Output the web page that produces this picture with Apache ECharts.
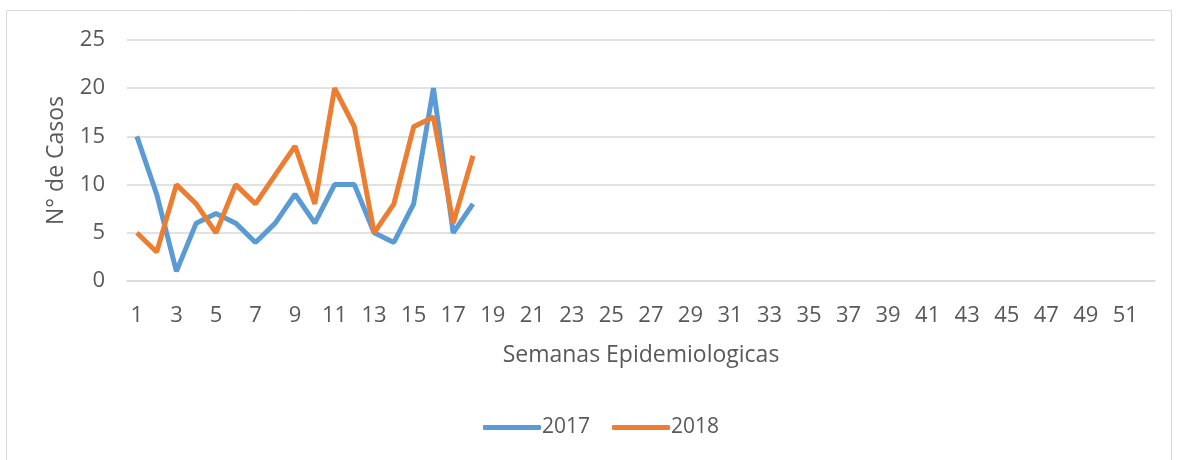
<!DOCTYPE html>
<html><head><meta charset="utf-8">
<script src="https://cdn.jsdelivr.net/npm/echarts@6/dist/echarts.min.js"></script>
<style>html,body{margin:0;padding:0;background:#fff}#c{width:1177px;height:460px}</style>
</head><body><div id="c"></div>
<script>
const weeks = Array.from({length:52},(_,i)=>String(i+1));
const s2017 = [15,9,1,6,7,6,4,6,9,6,10,10,5,4,8,20,5,8];
const s2018 = [5,3,10,8,5,10,8,11,14,8,20,16,5,8,16,17,6,13];
const yTicks = {min:0,max:25,interval:5};
const font = "'Open Sans', sans-serif";
const chart = echarts.init(document.getElementById('c'));
chart.setOption({
  animation:false,
  graphic:[{type:'rect',shape:{x:6.5,y:10.5,width:1165,height:460},style:{fill:'none',stroke:'#d9d9d9',lineWidth:1}}],
  grid:{left:127,right:22,top:40,bottom:179},
  legend:{top:417,left:483,itemWidth:58,itemHeight:5,itemGap:22,icon:'roundRect',padding:0,
    textStyle:{color:'#595959',fontSize:21,fontFamily:font,padding:[0,0,0,-4]}},
  xAxis:{type:'category',data:weeks,boundaryGap:true,
    name:'Semanas Epidemiologicas',nameLocation:'middle',nameGap:63,
    nameTextStyle:{color:'#595959',fontSize:23,fontFamily:font},
    axisLine:{show:true,lineStyle:{color:'#d9d9d9',width:1.5}},axisTick:{show:false},
    axisLabel:{interval:1,color:'#595959',fontSize:22,fontFamily:font,margin:24}},
  yAxis:{type:'value',min:yTicks.min,max:yTicks.max,interval:yTicks.interval,
    name:'N° de Casos',nameLocation:'middle',nameGap:59,
    nameTextStyle:{color:'#595959',fontSize:23,fontFamily:font},
    axisLabel:{color:'#595959',fontSize:22,fontFamily:font,margin:22},
    splitLine:{lineStyle:{color:'#d9d9d9',width:1.5}}},
  series:[
    {name:'2017',type:'line',data:s2017,symbol:'none',lineStyle:{color:'#5B9BD5',width:5},itemStyle:{color:'#5B9BD5'}},
    {name:'2018',type:'line',data:s2018,symbol:'none',lineStyle:{color:'#ED7D31',width:5},itemStyle:{color:'#ED7D31'}}
  ]
});
</script></body></html>
